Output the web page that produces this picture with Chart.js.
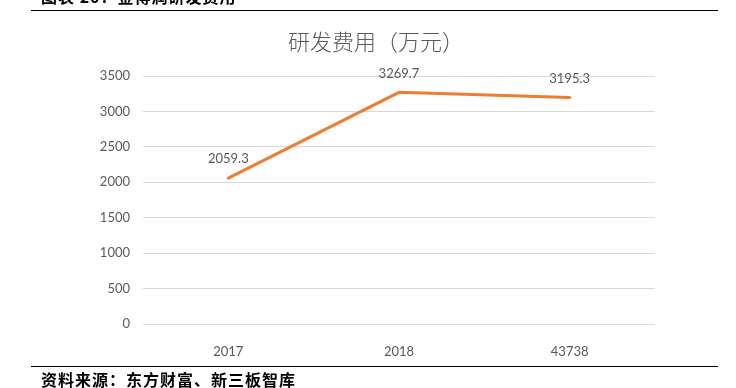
<!DOCTYPE html>
<html>
<head>
<meta charset="utf-8">
<script src="https://cdn.jsdelivr.net/npm/chart.js@4"></script>
<style>
  html, body { margin: 0; padding: 0; background: #fff; }
  #wrap { position: relative; width: 736px; height: 388px; overflow: hidden; }
  #chart { position: absolute; left: 0; top: 0; }
  .head { position: absolute; left: 41px; top: -12px; font: bold 16px "Noto Sans CJK SC"; line-height: 16px; color: #000; letter-spacing: 1px; }
  .rule { position: absolute; left: 31px; width: 687px; height: 0; border-top: 1.5px solid #000; }
  .src { position: absolute; left: 41px; top: 371px; font: bold 16px "Noto Sans CJK SC"; line-height: 17px; color: #000; letter-spacing: 1px; }
</style>
</head>
<body>
<div id="wrap">
  <canvas id="chart" width="736" height="388"></canvas>
  <div class="head">图表 20：金博润研发费用</div>
  <div class="rule" style="top:10px"></div>
  <div class="rule" style="top:366px"></div>
  <div class="src">资料来源：东方财富、新三板智库</div>
</div>
<script>
// chart data
const categories = ['2017', '2018', '43738'];
const rdCost = [2059.3, 3269.7, 3195.3];
const yTicks = [0, 500, 1000, 1500, 2000, 2500, 3000, 3500];

const chartTitle = '研发费用（万元）';

// title + point labels, placed from the chart's own scales
const labelPlugin = {
  id: 'labels',
  afterDatasetsDraw(chart) {
    const { ctx } = chart;
    ctx.save();
    ctx.fillStyle = '#595959';
    ctx.textAlign = 'center';
    ctx.textBaseline = 'middle';
    ctx.font = '300 22px "Noto Sans CJK SC"';
    ctx.fillText(chartTitle, 376, 42);

    ctx.font = '13px Lato';
    const meta = chart.getDatasetMeta(0);
    meta.data.forEach((pt, i) => {
      ctx.fillText(rdCost[i].toFixed(1), pt.x, pt.y - 19);
    });
    ctx.restore();
  }
};

new Chart(document.getElementById('chart'), {
  type: 'line',
  data: {
    labels: categories,
    datasets: [{
      data: rdCost,
      borderColor: '#ED7D31',
      borderWidth: 3,
      borderCapStyle: 'round',
      pointRadius: 0,
      tension: 0,
      fill: false
    }]
  },
  options: {
    responsive: false,
    animation: false,
    layout: { padding: { left: 0, right: 81, top: 76, bottom: 0 } },
    plugins: { legend: { display: false }, tooltip: { enabled: false }, title: { display: false } },
    scales: {
      x: {
        offset: true,
        grid: { display: false },
        border: { display: false },
        ticks: { color: '#595959', font: { family: 'Lato', size: 13 }, padding: 12 },
        afterFit: s => { s.height = 64; }
      },
      y: {
        min: 0, max: 3500,
        afterBuildTicks: s => { s.ticks = yTicks.map(v => ({ value: v })); },
        grid: { color: '#D9D9D9', lineWidth: 1, drawTicks: false },
        border: { display: false },
        ticks: { color: '#595959', font: { family: 'Lato', size: 13 }, padding: 13, callback: v => String(v) },
        afterFit: s => { s.width = 143; }
      }
    }
  },
  plugins: [labelPlugin]
});
</script>
</body>
</html>
